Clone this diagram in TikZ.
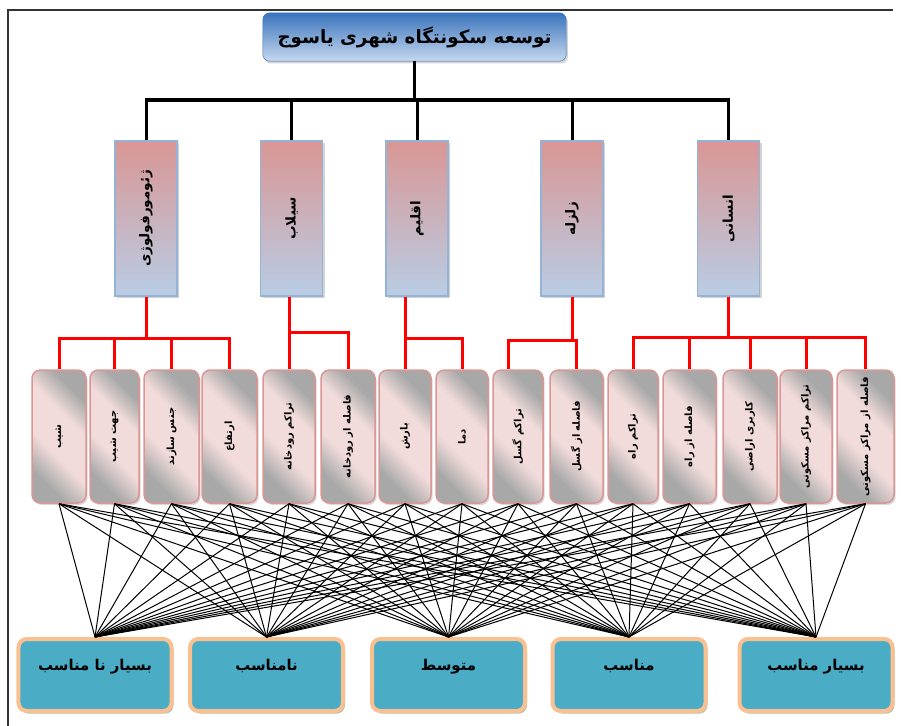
\documentclass[tikz,border=0pt]{standalone}
\usepackage{fontspec}
\usepackage{graphicx}
\usetikzlibrary{shadows}
\TeXXeTstate=1
\newfontfamily\fa[Script=Arabic]{DejaVu Sans}

\definecolor{titletop}{HTML}{3A74BC}
\definecolor{titlebot}{HTML}{C6D8EF}
\definecolor{crittop}{HTML}{D99694}
\definecolor{critbot}{HTML}{B9CDE5}
\definecolor{critline}{HTML}{95B3D7}
\definecolor{indpink}{HTML}{F2DCDB}
\definecolor{indgray}{HTML}{A8A8A8}
\definecolor{indline}{HTML}{D99694}
\definecolor{outfill}{HTML}{4BACC6}
\definecolor{outline}{HTML}{FAC090}
\definecolor{outshadow}{HTML}{8E9A6A}

% gray corners, pink across the middle
\pgfdeclareverticalshading{indshade}{100bp}{color(0bp)=(indgray);
  color(27bp)=(indgray); color(42bp)=(indpink); color(60bp)=(indpink);
  color(73bp)=(indgray); color(100bp)=(indgray)}

\newcommand{\fatext}[1]{{\fa\bfseries\beginR #1\endR}}
\newcommand{\uptext}[1]{\rotatebox{90}{\fatext{#1}}}

\tikzset{
  titlebox/.style={draw=titletop, rounded corners=2mm, top color=titletop,
    bottom color=titlebot, minimum width=91mm, minimum height=14.5mm,
    drop shadow={shadow xshift=0.5mm, shadow yshift=-0.7mm, opacity=0.35}},
  critbox/.style={draw=critline, line width=0.35mm, top color=crittop,
    bottom color=critbot, minimum width=18.6mm, minimum height=46.5mm,
    inner sep=0pt,
    drop shadow={shadow xshift=0.6mm, shadow yshift=-0.6mm, opacity=0.35}},
  indbox/.style={draw=indline, line width=0.45mm, rounded corners=2.5mm,
    shading=indshade, shading angle=-45, minimum height=39.9mm, inner sep=0pt,
    drop shadow={shadow xshift=0.5mm, shadow yshift=-0.6mm, opacity=0.3}},
  outbox/.style={draw=outline, line width=1.2mm, fill=outfill,
    rounded corners=2.5mm, minimum width=45.9mm, minimum height=21.6mm,
    text height=4mm, text depth=7mm, inner sep=0pt,
    drop shadow={shadow xshift=0.6mm, shadow yshift=-0.8mm, fill=outshadow, opacity=0.6}},
  blackline/.style={line width=0.9mm},
  redline/.style={red, line width=0.9mm},
  web/.style={line width=0.3mm},
}

\begin{document}
\begin{tikzpicture}[x=0.3mm, y=-0.3mm]
  \useasboundingbox (0,0) rectangle (901,726);
  % frame
  \draw[black!80, line width=0.6mm] (7.5,730) |- (893,10.5);

  % goal
  \node[titlebox] (goal) at (414.5,37)
    {\fontsize{15.6}{18}\selectfont\fatext{توسعه سکونتگاه شهری یاسوج}};

  % criteria
  \foreach \n/\x/\t in {1/146/ژئومورفولوژی, 2/291.5/سیلاب, 3/417/اقلیم,
                        4/572/زلزله, 5/728.5/انسانی}
    \node[critbox] (c\n) at (\x,218.5)
      {\fontsize{11.5}{14}\selectfont\uptext{\t}};

  % indicators
  \foreach \n/\x/\w/\t in {1/59/54/شیب, 2/114.5/49/جهت شیب, 3/171.5/55/جنس سازند,
      4/229.5/55/ارتفاع, 5/289/52/تراکم رودخانه, 6/348/54/فاصله از رودخانه,
      7/405/52/بارش, 8/462/52/دما, 9/518/50/تراکم گسل, 10/576.5/53/فاصله از گسل,
      11/633/50/تراکم راه, 12/689.5/53/فاصله از راه, 13/750/54/کاربری اراضی,
      14/806/52/تراکم مراکز مسکونی, 15/865.5/57/فاصله از مراکز مسکونی}
    \node[indbox, minimum width=\w*0.3mm] (i\n) at (\x,436.5)
      {\fontsize{8.5}{10}\selectfont\uptext{\t}};

  % outcomes
  \foreach \n/\x/\t in {1/95/بسیار نا مناسب, 2/266.5/نامناسب, 3/448.5/متوسط,
                        4/629/مناسب, 5/816/بسیار مناسب}
    \node[outbox] (o\n) at (\x,675)
      {\fontsize{12.7}{15}\selectfont\fatext{\t}};

  % goal to criteria
  \coordinate (bus) at (0,100);
  \draw[blackline] (goal.south) -- (goal.south |- bus);
  \draw[blackline] (c1.north) -- (c1.north |- bus) -- (c5.north |- bus) -- (c5.north);
  \foreach \n in {2,3,4}
    \draw[blackline] (c\n.north) -- (c\n.north |- bus);

  % criteria to indicators
  \coordinate (r1) at (0,338);
  \coordinate (r2) at (0,332);
  \coordinate (r3) at (0,338);
  \coordinate (r4) at (0,340);
  \coordinate (r5) at (0,337);
  \draw[redline] (c1.south) -- (c1.south |- r1);
  \draw[redline] (i1.north) -- (i1.north |- r1) -- (i4.north |- r1) -- (i4.north);
  \draw[redline] (i2.north) -- (i2.north |- r1);
  \draw[redline] (i3.north) -- (i3.north |- r1);
  \draw[redline] (c2.south -| i5.north) -- (i5.north);
  \draw[redline] (i5.north |- r2) -- (i6.north |- r2) -- (i6.north);
  \draw[redline] (c3.south -| i7.north) -- (i7.north);
  \draw[redline] (i7.north |- r3) -- (i8.north |- r3) -- (i8.north);
  \draw[redline] (c4.south) -- (c4.south |- r4);
  \draw[redline] ([xshift=-3mm]i9.north) -- ([xshift=-3mm]i9.north |- r4)
    -- (i10.north |- r4) -- (i10.north);
  \draw[redline] (c5.south) -- (c5.south |- r5);
  \draw[redline] (i11.north) -- (i11.north |- r5) -- (i15.north |- r5) -- (i15.north);
  \foreach \n in {12,13,14}
    \draw[redline] (i\n.north) -- (i\n.north |- r5);

  % indicators to outcomes
  \foreach \n in {1,...,15}
    \foreach \m in {1,...,5}
      \draw[web] (i\n.south) -- (o\m.north);
\end{tikzpicture}
\end{document}
